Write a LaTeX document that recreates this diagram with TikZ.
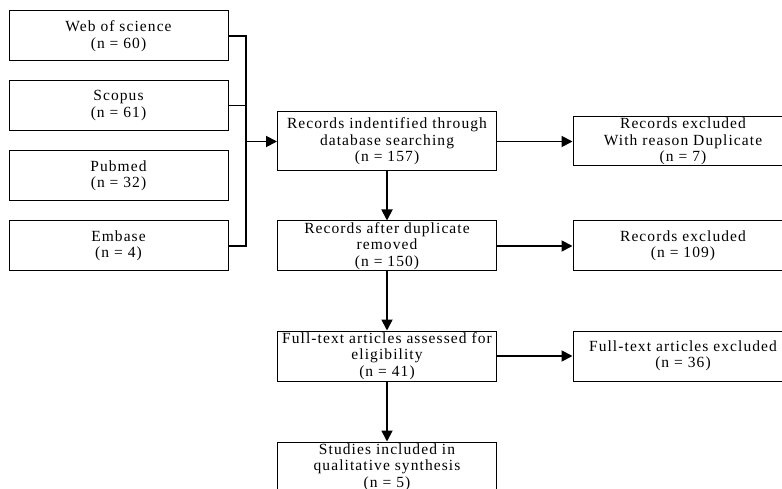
\documentclass[tikz,border=0pt]{standalone}
\usepackage{fontspec}
\setmainfont{Liberation Serif}[LetterSpace=7]
\usetikzlibrary{arrows.meta}
\begin{document}
\begin{tikzpicture}[x=1pt,y=-1pt,
    box/.style={draw,line width=1pt,minimum width=219pt,minimum height=50pt,
        inner sep=0pt,align=center,font=\fontsize{15.5}{16.5}\selectfont},
    link/.style={line width=1.8pt},
    arr/.style={link,-{Triangle[length=11pt,width=11pt]}}]
        \useasboundingbox (0,0) rectangle (782,489);
        \clip (0,0) rectangle (782,489);
        \node (web) at (118.5,36) [box] {Web of science\\(n = 60)};
        \node (scopus) at (118.5,105.5) [box] {Scopus\\(n = 61)};
        \node (pubmed) at (118.5,176) [box] {Pubmed\\(n = 32)};
        \node (embase) at (118.5,246) [box] {Embase\\(n = 4)};
        \node (ident) at (387,141.5) [box,minimum height=59pt] {Records indentified through\\database searching\\(n = 157)};
        \node (dup) at (387,246) [box] {Records after duplicate\\removed\\(n = 150)};
        \node (full) at (387,356) [box] {Full-text articles assessed for\\eligibility\\(n = 41)};
        \node (incl) at (387,467) [box] {Studies included in\\qualitative synthesis\\(n = 5)};
        \node (exdup) at (683,141.5) [box,minimum width=220pt,minimum height=49pt] {Records excluded\\With reason Duplicate\\(n = 7)};
        \node (exrec) at (683,246) [box,minimum width=220pt] {Records excluded\\(n = 109)};
        \node (exfull) at (683,356) [box,minimum width=220pt] {Full-text articles excluded\\(n = 36)};
        \coordinate (join) at (246,141.5);
        \draw[link] (web.east) -| (join);
        \draw[link] (scopus.east) -| (join);
        \draw[link] (embase.east) -| (join);
        \draw[arr] (join) -- (ident);
        \draw[arr] (ident) -- (exdup);
        \draw[arr] (dup) -- (exrec);
        \draw[arr] (full) -- (exfull);
        \draw[arr] (ident) -- (dup);
        \draw[arr] (dup) -- (full);
        \draw[arr] (full) -- (incl);
    \end{tikzpicture}
\end{document}
